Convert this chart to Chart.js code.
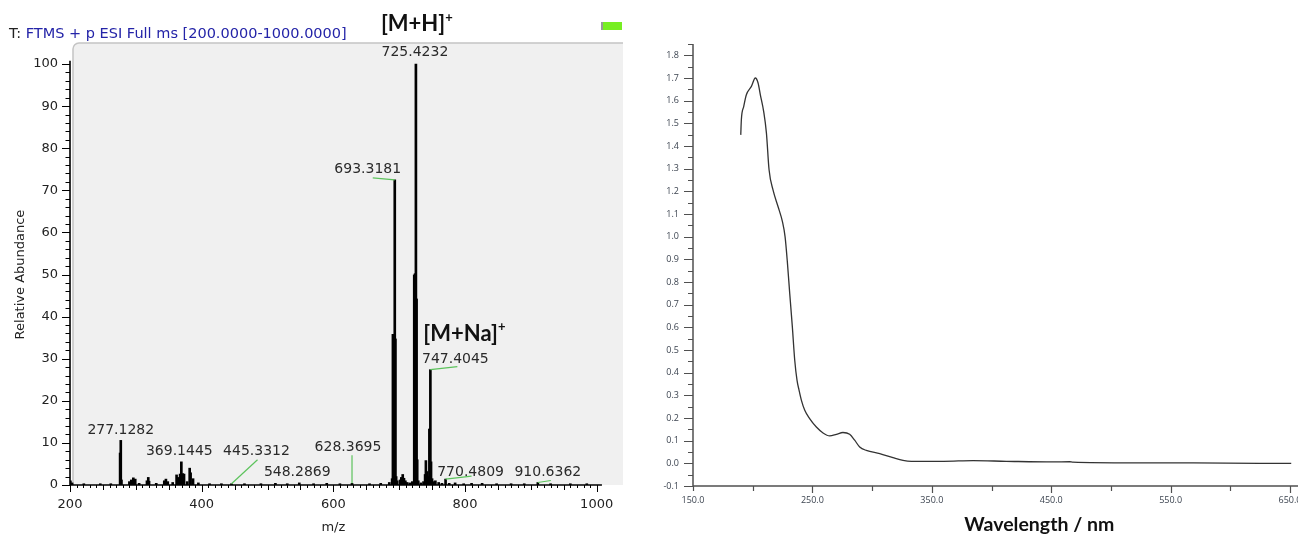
<!DOCTYPE html>
<html>
<head>
<meta charset="utf-8">
<script src="https://cdn.jsdelivr.net/npm/chart.js@4.4.0/dist/chart.umd.min.js"></script>
<style>
  html, body { margin: 0; padding: 0; background: #fff; }
  #wrap { position: relative; width: 1298px; height: 537px; overflow: hidden; }
  #ms { position: absolute; left: 0; top: 0; }
  #uv { position: absolute; left: 640px; top: 0; }
</style>
</head>
<body>
<div id="wrap">
  <canvas id="ms" width="640" height="537"></canvas>
  <canvas id="uv" width="658" height="537"></canvas>
</div>
<script>
// ---- ESI mass spectrum (centroid sticks) ----
const msMz = [
  200.6, 203.2, 221, 246, 262, 276.12, 277.1282, 278.13, 290.2, 293.1, 296.2, 299.1, 305,
  316.9, 318.9, 320.1, 331, 343.2, 345.7, 348.5, 356, 361.9, 364.3, 367.2, 369.1445, 371.2,
  373.2, 378, 381.8, 383.2, 386.9, 395, 412, 430, 445.3312, 465, 490, 512, 530, 548.2869,
  570, 590, 610, 628.3695, 655, 672, 685, 689.3, 690.5, 691.9, 693.3181, 694.32, 695.4, 697,
  701.4, 703.3, 705.4, 707.3, 709.4, 712, 716, 720, 722.9, 724.2, 725.4232, 726.43, 727.4,
  729, 733, 737, 739.4, 740.6, 742.3, 744, 745.9, 747.4045, 748.41, 750, 752, 755, 760, 765,
  770.4809, 776, 785, 798, 810, 826, 848, 870, 890, 910.6362, 930, 960, 985
];
const msAbund = [
  1.0, 0.5, 0.3, 0.3, 0.3, 7.6, 10.6, 1.2, 0.8, 1.2, 1.7, 1.4, 0.4,
  1.0, 1.8, 0.9, 0.4, 1.0, 1.4, 0.8, 0.6, 2.4, 1.8, 2.6, 5.5, 2.7,
  2.6, 0.8, 4.0, 2.9, 1.5, 0.5, 0.3, 0.3, 0.3, 0.3, 0.3, 0.4, 0.3, 0.5,
  0.3, 0.4, 0.3, 0.4, 0.3, 0.4, 0.6, 1.5, 35.8, 35.6, 72.5, 34.7, 2.0, 1.0,
  1.2, 1.8, 2.5, 1.6, 1.0, 0.6, 0.5, 0.8, 49.9, 50.2, 100, 44.2, 6.0,
  1.0, 0.5, 0.8, 2.5, 5.8, 3.2, 2.0, 13.3, 27.4, 5.5, 1.5, 0.8, 1.0, 0.6, 0.4,
  1.4, 0.4, 0.5, 0.3, 0.4, 0.4, 0.3, 0.3, 0.3, 0.6, 0.3, 0.3, 0.3
];
const msTicksX = [200, 400, 600, 800, 1000];
const msTicksY = [0, 10, 20, 30, 40, 50, 60, 70, 80, 90, 100];

// annotated peaks
const labelMz = [277.1282, 369.1445, 445.3312, 548.2869, 628.3695, 693.3181, 725.4232, 747.4045, 770.4809, 910.6362];
// label centre offset from the peak top [dx, dy], green leader end [dx, dy] or null
const labelPlace = [
  [0, -10, null], [-2, -10, null], [25, -32, [26, -24]], [-2, -11, null], [-4, -36, [0, -28]],
  [-27, -10, [-22, -2]], [-1, -12, null], [25, -10, [27, -3]], [25, -7, [26, -3]], [10, -10, [13, -2]]
];

// ---- UV-Vis absorption spectrum ----
const uvNm = [
  190.0, 190.5, 192.5, 194.7, 198.9, 202.2, 204.5, 206.4, 209.2, 211.5, 213.7, 217.0, 221.2,
  224.9, 227.1, 229.0, 231.0, 233.2, 235.2, 237.1, 238.8, 240.8, 243.6, 247.7, 253.3, 258.9,
  264.5, 270.1, 275.6, 281.2, 285.4, 289.6, 295.2, 306.4, 317.5, 325.9, 332.9, 360, 384.5,
  412.5, 451.5, 465.5, 468, 518.5, 568.8, 624.6, 651
];
const uvAbs = [
  1.449, 1.516, 1.575, 1.626, 1.663, 1.700, 1.678, 1.626, 1.552, 1.457, 1.295, 1.206, 1.133,
  1.066, 1.000, 0.890, 0.750, 0.602, 0.455, 0.367, 0.323, 0.278, 0.234, 0.197, 0.160, 0.134,
  0.121, 0.128, 0.136, 0.128, 0.102, 0.072, 0.057, 0.043, 0.025, 0.013, 0.009, 0.009, 0.012,
  0.009, 0.006, 0.007, 0.005, 0.002, 0.002, 0.000, 0.000
];
const uvTicksX = [150, 250, 350, 450, 550, 650];
const uvTicksY = [-0.1, 0.0, 0.1, 0.2, 0.3, 0.4, 0.5, 0.6, 0.7, 0.8, 0.9, 1.0, 1.1, 1.2, 1.3, 1.4, 1.5, 1.6, 1.7, 1.8];

const MS_FONT = 'DejaVu Sans';

function tickRun(ctx, scale, fixed, from, to, step, len, vertical) {
  const n = Math.round((to - from) / step);
  for (let i = 0; i <= n; i++) {
    const p = Math.round(scale.getPixelForValue(from + i * step)) + 0.5;
    if (vertical) { ctx.moveTo(fixed, p); ctx.lineTo(fixed - len, p); }
    else { ctx.moveTo(p, fixed); ctx.lineTo(p, fixed + len); }
  }
}

function supText(ctx, x, y, main, size) {
  ctx.font = 'bold ' + size + 'px Lato';
  ctx.textAlign = 'left';
  ctx.textBaseline = 'alphabetic';
  ctx.fillText(main, x, y);
  const w = ctx.measureText(main).width;
  ctx.font = 'bold ' + Math.round(size * 0.6) + 'px Lato';
  ctx.fillText('+', x + w, y - size * 0.42);
}

const msDecor = {
  id: 'msDecor',
  beforeDatasetsDraw(chart) {
    const { ctx, chartArea: a } = chart;
    ctx.save();
    ctx.fillStyle = '#f0f0f0';
    ctx.beginPath();
    ctx.moveTo(a.left + 3, a.bottom);
    ctx.lineTo(a.left + 3, a.top + 6);
    ctx.arcTo(a.left + 3, a.top, a.left + 9, a.top, 6);
    ctx.lineTo(a.right, a.top);
    ctx.lineTo(a.right, a.bottom);
    ctx.closePath();
    ctx.fill();
    ctx.strokeStyle = '#c4c4c4';
    ctx.lineWidth = 1.5;
    ctx.beginPath();
    ctx.moveTo(a.left + 3, a.bottom);
    ctx.lineTo(a.left + 3, a.top + 6);
    ctx.arcTo(a.left + 3, a.top, a.left + 9, a.top, 6);
    ctx.lineTo(a.right, a.top);
    ctx.stroke();
    ctx.restore();
  },
  afterDatasetsDraw(chart) {
    const { ctx, chartArea: a, scales: { x, y } } = chart;
    ctx.save();
    // axes
    ctx.strokeStyle = '#000';
    ctx.lineWidth = 1.6;
    ctx.beginPath();
    ctx.moveTo(a.left, y.getPixelForValue(0));
    ctx.lineTo(a.left, y.getPixelForValue(100.8));
    ctx.moveTo(a.left, y.getPixelForValue(0));
    ctx.lineTo(x.getPixelForValue(1008), y.getPixelForValue(0));
    ctx.stroke();
    ctx.lineWidth = 1;
    ctx.beginPath();
    tickRun(ctx, y, a.left, 0, 100, 10, 8, true);
    tickRun(ctx, y, a.left, 0, 100, 2, 4.5, true);
    const y0 = y.getPixelForValue(0);
    tickRun(ctx, x, y0, 200, 1000, 200, 7, false);
    tickRun(ctx, x, y0, 200, 1000, 50, 5, false);
    tickRun(ctx, x, y0, 200, 1000, 10, 3, false);
    ctx.stroke();

    // peak labels with leaders
    ctx.font = '14px ' + MS_FONT;
    ctx.textAlign = 'center';
    ctx.textBaseline = 'middle';
    labelMz.forEach((mz, i) => {
      const k = msMz.indexOf(mz);
      const px = x.getPixelForValue(mz);
      const py = y.getPixelForValue(msAbund[k]);
      const [dx, dy, lead] = labelPlace[i];
      if (lead) {
        ctx.strokeStyle = '#5cc35c';
        ctx.lineWidth = 1.2;
        ctx.beginPath();
        ctx.moveTo(px, py);
        ctx.lineTo(px + lead[0], py + lead[1]);
        ctx.stroke();
      }
      ctx.fillStyle = '#2a2a2a';
      ctx.fillText(mz.toFixed(4), px + dx, py + dy);
    });

    // ion assignments
    ctx.fillStyle = '#111';
    const pH = msMz.indexOf(725.4232), pNa = msMz.indexOf(747.4045);
    supText(ctx, x.getPixelForValue(msMz[pH]) - 35, y.getPixelForValue(msAbund[pH]) - 33, '[M+H]', 22);
    supText(ctx, x.getPixelForValue(msMz[pNa]) - 7, y.getPixelForValue(msAbund[pNa]) - 29, '[M+Na]', 22);

    // header line
    ctx.textAlign = 'left';
    ctx.textBaseline = 'middle';
    ctx.font = '14.5px ' + MS_FONT;
    ctx.fillStyle = '#222';
    ctx.fillText('T:', 9, 34);
    const tw = ctx.measureText('T: ').width;
    ctx.fillStyle = '#2424a8';
    ctx.fillText('FTMS + p ESI Full ms [200.0000-1000.0000]', 9 + tw, 34);

    // scan-filter marker
    ctx.fillStyle = '#77ee22';
    ctx.fillRect(a.right - 21, 22, 20, 8);
    ctx.fillStyle = '#999';
    ctx.fillRect(a.right - 22, 22, 2, 8);

    // axis titles
    ctx.fillStyle = '#222';
    ctx.font = '13px ' + MS_FONT;
    ctx.textAlign = 'center';
    ctx.fillText('m/z', x.getPixelForValue(600), 528);
    ctx.translate(21, y.getPixelForValue(50));
    ctx.rotate(-Math.PI / 2);
    ctx.fillText('Relative Abundance', 0, 0);
    ctx.restore();
  }
};

new Chart(document.getElementById('ms'), {
  type: 'bar',
  data: {
    datasets: [{
      data: msMz.map((m, i) => ({ x: m, y: msAbund[i] })),
      backgroundColor: '#000',
      borderWidth: 0,
      barThickness: 2
    }]
  },
  options: {
    responsive: false,
    animation: false,
    layout: { padding: { top: 43, right: 17, left: 0, bottom: 0 } },
    plugins: { legend: { display: false }, tooltip: { enabled: false } },
    scales: {
      x: {
        type: 'linear', min: 200, max: 1040, offset: false,
        grid: { display: false, drawTicks: false },
        border: { display: false },
        ticks: {
          padding: 12, color: '#222', font: { family: MS_FONT, size: 13 }, maxRotation: 0,
          callback: v => String(v)
        },
        afterBuildTicks: s => { s.ticks = msTicksX.map(v => ({ value: v })); },
        afterFit: s => { s.height = 52; s.paddingLeft = 0; s.paddingRight = 0; }
      },
      y: {
        type: 'linear', min: 0, max: 105,
        grid: { display: false, drawTicks: false },
        border: { display: false },
        ticks: {
          padding: 12, color: '#222', font: { family: MS_FONT, size: 13 },
          callback: v => String(v)
        },
        afterBuildTicks: s => { s.ticks = msTicksY.map(v => ({ value: v })); },
        afterFit: s => { s.width = 70; }
      }
    }
  },
  plugins: [msDecor]
});

const uvDecor = {
  id: 'uvDecor',
  afterDatasetsDraw(chart) {
    const { ctx, chartArea: a, scales: { x, y } } = chart;
    ctx.save();
    ctx.strokeStyle = '#505050';
    ctx.lineWidth = 1.5;
    ctx.beginPath();
    ctx.moveTo(a.left, a.top);
    ctx.lineTo(a.left, a.bottom);
    ctx.lineTo(a.right + 2, a.bottom);
    ctx.stroke();
    ctx.lineWidth = 1.2;
    ctx.beginPath();
    tickRun(ctx, y, a.left, -0.1, 1.8, 0.1, 9, true);
    tickRun(ctx, y, a.left, -0.05, 1.85, 0.1, 5, true);
    tickRun(ctx, x, a.bottom, 250, 650, 100, 7, false);
    tickRun(ctx, x, a.bottom, 150, 650, 50, 5, false);
    ctx.stroke();

    ctx.fillStyle = '#111';
    ctx.font = 'bold 19.5px Lato';
    ctx.textAlign = 'center';
    ctx.textBaseline = 'middle';
    ctx.fillText('Wavelength / nm', x.getPixelForValue(440), 525);
    ctx.restore();
  }
};

new Chart(document.getElementById('uv'), {
  type: 'line',
  data: {
    datasets: [{
      data: uvNm.map((w, i) => ({ x: w, y: uvAbs[i] })),
      borderColor: '#333',
      borderWidth: 1.3,
      pointRadius: 0,
      cubicInterpolationMode: 'monotone'
    }]
  },
  options: {
    responsive: false,
    animation: false,
    layout: { padding: { top: 44, right: 2, left: 0, bottom: 0 } },
    plugins: { legend: { display: false }, tooltip: { enabled: false } },
    scales: {
      x: {
        type: 'linear', min: 150, max: 655,
        grid: { display: false, drawTicks: false },
        border: { display: false },
        ticks: {
          padding: 9, color: '#3c4450', font: { family: 'Open Sans', size: 9 }, maxRotation: 0,
          callback: v => v.toFixed(1)
        },
        afterBuildTicks: s => { s.ticks = uvTicksX.map(v => ({ value: v })); },
        afterFit: s => { s.height = 51; s.paddingLeft = 0; s.paddingRight = 0; }
      },
      y: {
        type: 'linear', min: -0.1, max: 1.85,
        grid: { display: false, drawTicks: false },
        border: { display: false },
        ticks: {
          padding: 14, color: '#3c4450', font: { family: 'Open Sans', size: 9 },
          callback: v => v.toFixed(1)
        },
        afterBuildTicks: s => { s.ticks = uvTicksY.map(v => ({ value: v })); },
        afterFit: s => { s.width = 53; }
      }
    }
  },
  plugins: [uvDecor]
});
</script>
</body>
</html>
